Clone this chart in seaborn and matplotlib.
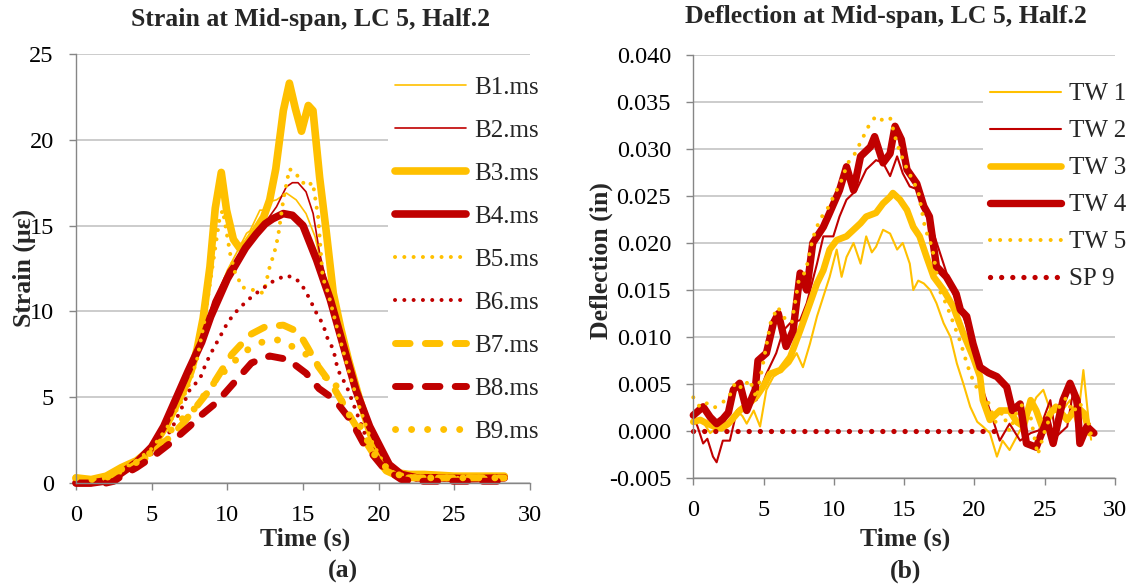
import matplotlib
matplotlib.use("Agg")
import matplotlib.pyplot as plt
import seaborn as sns
from matplotlib.ticker import FormatStrFormatter, MultipleLocator

# ---------------- strain at mid-span (micro-strain vs time in s) ----------------
b1_t = [0, 1, 2, 3, 4, 5, 6, 7, 8, 9, 10, 10.6, 11.27, 11.5, 12.15, 12.4, 12.8, 13.25, 13.9, 14.55,
        15.2, 15.8, 16.4, 17.0, 17.6, 18.5, 19.5, 20.5, 21.5, 22.5, 25.0, 28.3]
b1_v = [0.3, 0.2, 0.4, 0.9, 1.4, 2.2, 3.5, 5.3, 7.4, 10.2, 12.4, 13.4, 14.55, 14.7, 15.9, 15.9, 16.4, 16.5, 16.9, 16.5,
        15.7, 14.35, 12.0, 10.0, 8.0, 5.5, 3.0, 1.2, 0.6, 0.5, 0.4, 0.4]

b2_t = [0, 1, 2, 3, 4, 5, 6, 7, 8.0, 8.6, 9.06, 9.5, 10.05, 10.6, 11.2, 12.0, 12.6, 13.25, 13.9, 14.3,
        14.67, 15.2, 15.67, 16.1, 16.6, 17.2, 18.0, 19.0, 20.0, 21.0, 22.0, 25.0, 28.3]
b2_v = [0.1, 0.1, 0.2, 0.7, 1.3, 2.2, 3.6, 5.4, 7.6, 9.3, 10.6, 11.4, 12.4, 13.0, 13.8, 14.8, 15.3, 16.1, 17.26, 17.5,
        17.5, 16.97, 15.7, 13.4, 11.5, 9.5, 7.3, 4.6, 2.0, 0.7, 0.4, 0.3, 0.3]

b3_t = [0, 1, 2, 3, 4, 5, 6, 7.1, 7.6, 8.0, 8.4, 8.85, 9.2, 9.6, 9.95, 10.4, 10.8, 11.3, 11.9, 12.4, 12.8,
        13.2, 13.7, 14.1, 14.5, 14.9, 15.35, 15.66, 16.1, 16.55, 17.0, 17.5, 18.0, 18.7, 19.4, 20.0, 20.5,
        21.2, 22.0, 23.0, 25.0, 27.0, 28.3]
b3_v = [0.3, 0.2, 0.4, 0.9, 1.3, 2.0, 3.4, 5.4, 6.5, 7.8, 9.6, 12.6, 16.0, 18.1, 15.9, 14.2, 13.7, 14.0, 14.8, 15.5, 16.5,
        18.3, 21.7, 23.3, 21.8, 20.5, 22.0, 21.7, 17.8, 14.55, 11.06, 9.0, 7.2, 5.0, 3.0, 1.6, 1.0,
        0.6, 0.5, 0.5, 0.4, 0.4, 0.4]

b4_t = [0, 1.0, 1.8, 2.7, 4.0, 5.0, 5.8, 6.6, 7.4, 8.3, 8.9, 9.5, 10.0, 10.6, 11.2, 11.9, 12.5, 13.0, 13.7, 14.3,
        15.0, 15.9, 16.8, 17.6, 18.5, 19.4, 20.3, 20.7, 21.5, 22.5, 24.0, 26.0, 28.3]
b4_v = [0.0, 0.0, 0.1, 0.4, 1.2, 2.1, 3.3, 4.9, 6.5, 8.2, 9.7, 10.9, 11.9, 12.8, 13.7, 14.5, 15.1, 15.4, 15.7, 15.6,
        15.0, 13.0, 10.7, 8.2, 5.4, 3.3, 1.75, 1.07, 0.5, 0.3, 0.3, 0.25, 0.3]

b5_t = [0, 1, 2, 3, 4, 5, 6, 7, 7.5, 8.0, 8.5, 9.0, 9.5, 9.7, 10.2, 10.5, 11.0, 11.7, 12.4, 12.8,
        13.1, 13.35, 13.7, 14.1, 14.45, 15.2, 15.65, 16.0, 16.3, 16.65, 17.0, 17.5, 18.0, 18.7, 19.5,
        20.3, 21.0, 22.0, 25.0, 28.3]
b5_v = [0.2, 0.2, 0.3, 0.8, 1.3, 2.0, 3.2, 4.8, 5.8, 7.2, 9.5, 12.5, 15.5, 15.9, 13.3, 12.3, 11.4, 11.25, 11.06, 12.6,
        13.4, 14.35, 16.5, 18.3, 18.1, 17.3, 17.5, 15.5, 12.0, 11.1, 9.9, 8.2, 6.6, 4.5, 2.5,
        1.2, 0.6, 0.4, 0.3, 0.3]

b6_t = [0, 1, 2, 3, 4, 5, 5.8, 6.4, 7.0, 7.5, 8.2, 8.6, 9.06, 9.5, 10.05, 10.6, 11.27, 11.9, 12.6, 13.1,
        13.9, 14.55, 15.1, 15.45, 16.0, 16.3, 16.65, 17.0, 17.3, 17.9, 18.5, 19.2, 20.0, 20.7, 21.5,
        22.0, 25.0, 28.3]
b6_v = [0.0, 0.0, 0.1, 0.5, 1.0, 1.7, 2.4, 3.3, 4.4, 5.4, 6.1, 7.0, 7.8, 8.5, 9.4, 10.0, 10.6, 11.05, 11.5, 11.8,
        12.1, 11.9, 11.3, 10.7, 9.7, 9.3, 8.35, 7.8, 6.6, 5.6, 4.2, 2.6, 1.4, 0.8, 0.3,
        0.2, 0.2, 0.2]

b7_t = [0, 1, 2, 3, 4, 5, 6, 7, 8, 8.8, 9.3, 10.3, 11.5, 12.5, 13.7, 14.7, 15.3, 16.0, 16.5, 17.0,
        17.6, 18.1, 19.0, 19.8, 20.5, 21.5, 22.5, 25.0, 28.3]
b7_v = [0.2, 0.1, 0.3, 0.7, 1.1, 1.7, 2.5, 3.4, 4.5, 5.4, 6.1, 7.5, 8.64, 9.1, 9.2, 8.8, 7.9, 6.8, 6.2, 5.6,
        4.7, 3.9, 2.6, 1.5, 0.7, 0.3, 0.3, 0.3, 0.3]

b8_t = [0, 1, 2, 2.5, 3, 4, 5.1, 6.2, 7.5, 8.2, 9.3, 10.6, 11.6, 12.8, 14.0, 15.2, 16.06, 17.1, 18.2, 19.0,
        20.3, 21.5, 22.5, 25.0, 28.3]
b8_v = [0.0, 0.0, 0.0, 0.1, 0.4, 0.9, 1.55, 2.3, 3.3, 3.9, 4.7, 6.0, 7.0, 7.4, 7.2, 6.4, 5.5, 4.85, 3.6, 2.3,
        0.9, 0.2, 0.1, 0.1, 0.1]

b9_t = [0, 1, 2, 3, 4, 5, 6, 6.9, 7.5, 8.1, 9.0, 9.7, 10.2, 11.4, 12.5, 13.5, 14.6, 15.8, 16.3, 17.0,
        17.6, 18.1, 19.0, 19.4, 19.8, 20.5, 21.5, 22.5, 25.0, 28.3]
b9_v = [0.3, 0.2, 0.3, 0.8, 1.2, 1.8, 2.8, 3.7, 3.9, 4.7, 5.7, 6.4, 6.9, 7.8, 8.3, 8.34, 7.8, 7.2, 6.2, 6.1,
        4.7, 3.9, 3.1, 2.1, 1.55, 0.9, 0.4, 0.3, 0.3, 0.3]

# ---------------- deflection at mid-span (in vs time in s) ----------------
tw1_t = [0, 0.6, 1.2, 1.7, 2.1, 2.6, 3.1, 3.5, 3.8, 4.3, 4.75, 5.2, 5.7, 6.4, 6.9, 7.35, 7.8, 8.3, 8.8, 9.25,
         9.7, 10.2, 10.55, 10.9, 11.4, 11.9, 12.3, 12.7, 13.0, 13.5, 14.0, 14.5, 14.9, 15.4, 15.65, 16.0, 16.4,
         16.85, 17.3, 17.8, 18.3, 18.75, 19.2, 19.7, 20.2, 20.6, 21.1, 21.6, 22.0, 22.5, 23.25, 24.0, 24.4,
         24.9, 25.4, 26.1, 26.8, 27.3, 27.75, 28.1, 28.3]
tw1_v = [0.0008, 0.0012, -0.0002, 0.0004, 0.0008, 0.0012, 0.0022, 0.0016, 0.0008, 0.0022, 0.0005, 0.0044,
         0.0058, 0.0065, 0.0072, 0.0083, 0.0068, 0.0093, 0.0122, 0.0143, 0.0164, 0.0193, 0.0164, 0.0185,
         0.0200, 0.0178, 0.0207, 0.0190, 0.0196, 0.0214, 0.0210, 0.0193, 0.0200, 0.0178, 0.0150, 0.0160,
         0.0157, 0.0150, 0.0136, 0.0115, 0.0100, 0.0072, 0.0051, 0.0026, 0.0010, 0.0005, -0.0002, -0.0027,
         -0.0010, -0.0020, 0.0001, 0.0022, 0.0036, 0.0044, 0.0022, 0.0019, 0.0033, 0.0005, 0.0065, 0.0015,
         -0.0009]

tw2_t = [0, 0.3, 0.7, 1.0, 1.4, 1.66, 2.1, 2.6, 3.1, 3.8, 4.5, 5.2, 5.9, 6.4, 6.9, 7.6, 8.07, 8.8, 9.25, 9.96,
         10.4, 10.9, 11.6, 12.3, 13.0, 13.5, 14.0, 14.5, 14.9, 15.4, 16.1, 16.6, 17.1, 17.8, 18.5, 19.2, 19.9,
         20.6, 21.1, 21.8, 22.5, 23.25, 24.0, 24.6, 25.4, 25.8, 26.6, 27.0, 27.5, 28.2]
tw2_v = [0.0015, 0.0005, -0.0013, -0.0008, -0.0027, -0.0033, -0.0010, -0.0010, 0.0022, 0.0030, 0.0033,
         0.0061, 0.0083, 0.0107, 0.0115, 0.0118, 0.0136, 0.0178, 0.0207, 0.0207, 0.0228, 0.0246, 0.0256,
         0.0278, 0.0288, 0.0285, 0.0271, 0.0292, 0.0274, 0.0260, 0.0256, 0.0235, 0.0210, 0.0178, 0.0146,
         0.0122, 0.0093, 0.0044, 0.0022, -0.0010, 0.0008, -0.0010, -0.0002, 0.0001, 0.0033, -0.0006, 0.0005,
         0.0040, -0.0002, 0.0008]

tw3_t = [0, 0.5, 1.0, 1.5, 2.0, 2.5, 3.3, 4.0, 4.5, 5.0, 5.45, 6.2, 6.9, 7.6, 8.3, 8.8, 9.25, 9.7, 10.2, 10.9,
         11.4, 11.9, 12.3, 13.0, 13.5, 14.0, 14.2, 14.7, 15.2, 15.65, 16.1, 16.6, 17.1, 17.8, 18.5, 19.2, 19.9,
         20.4, 20.6, 21.1, 21.8, 22.5, 23.0, 23.5, 24.0, 24.4, 24.9, 25.4, 25.8, 26.6, 27.3, 27.8, 28.2]
tw3_v = [0.0010, 0.0012, 0.0008, 0.0005, 0.0003, 0.0008, 0.0022, 0.0030, 0.0037, 0.0048, 0.0061, 0.0065,
         0.0079, 0.0107, 0.0136, 0.0157, 0.0171, 0.0193, 0.0203, 0.0207, 0.0214, 0.0221, 0.0228, 0.0232,
         0.0242, 0.0249, 0.0253, 0.0246, 0.0235, 0.0217, 0.0207, 0.0185, 0.0164, 0.0150, 0.0132, 0.0104,
         0.0079, 0.0058, 0.0033, 0.0012, 0.0022, 0.0022, 0.0010, 0.0005, 0.0033, 0.0022, 0.0001, 0.0019,
         0.0026, 0.0012, 0.0026, 0.0019, -0.0002]

tw4_t = [0, 0.7, 1.2, 1.66, 2.1, 2.5, 2.85, 3.3, 3.8, 4.4, 4.6, 5.2, 5.7, 6.05, 6.6, 7.1, 7.6, 8.07, 8.5, 9.25,
         9.7, 10.4, 10.9, 11.4, 11.9, 12.6, 12.9, 13.5, 14.0, 14.35, 14.8, 15.2, 15.9, 16.4, 16.8, 17.3, 18.0,
         18.7, 19.0, 19.45, 19.9, 20.4, 21.0, 21.6, 22.3, 22.7, 23.25, 23.7, 24.4, 25.15, 25.6, 26.3, 26.8,
         27.3, 27.5, 28.0, 28.5]
tw4_v = [0.0017, 0.0026, 0.0015, 0.0008, 0.0013, 0.0020, 0.0044, 0.0051, 0.0022, 0.0044, 0.0075, 0.0083,
         0.0115, 0.0125, 0.0090, 0.0107, 0.0168, 0.0150, 0.0200, 0.0217, 0.0232, 0.0256, 0.0281, 0.0256,
         0.0292, 0.0302, 0.0313, 0.0285, 0.0295, 0.0324, 0.0310, 0.0278, 0.0263, 0.0239, 0.0228, 0.0175,
         0.0164, 0.0146, 0.0129, 0.0122, 0.0093, 0.0068, 0.0062, 0.0058, 0.0047, 0.0022, 0.0029, -0.0013,
         -0.0017, 0.0012, -0.0013, 0.0033, 0.0051, 0.0033, -0.0013, 0.0005, -0.0002]

tw5_t = [0.0, 0.5, 1.0, 1.5, 2.0, 2.5, 3.0, 3.5, 4.0, 4.5, 5.0, 5.5, 6.0, 6.5, 7.0, 7.5, 8.0, 8.5, 9.0, 9.5,
         10.0, 10.5, 11.0, 11.5, 12.0, 12.5, 13.0, 13.5, 14.0, 14.5, 15.0, 15.5, 16.0, 16.5, 17.0, 17.5, 18.0,
         18.5, 19.0, 19.5, 20.0, 20.5, 21.0, 21.5, 22.0, 22.5, 23.0, 23.5, 24.0, 24.5, 25.0, 25.5, 26.0, 26.5,
         27.0, 27.5, 28.0, 28.4]
tw5_v = [0.0036, 0.0025, 0.0030, 0.0025, 0.0030, 0.0035, 0.0052, 0.0045, 0.0055, 0.0035, 0.0075, 0.0115,
         0.0132, 0.0120, 0.0115, 0.0160, 0.0170, 0.0205, 0.0225, 0.0235, 0.0250, 0.0265, 0.0285, 0.0295,
         0.0310, 0.0325, 0.0335, 0.0330, 0.0333, 0.0305, 0.0285, 0.0270, 0.0255, 0.0215, 0.0195, 0.0150,
         0.0135, 0.0115, 0.0095, 0.0070, 0.0050, 0.0040, 0.0030, 0.0010, 0.0020, 0.0000, 0.0020, 0.0030,
         0.0015, -0.0025, 0.0000, 0.0020, 0.0025, 0.0035, 0.0020, 0.0030, 0.0015, -0.0010]

sp9_t = [0.0, 5.0, 10.0, 15.0, 21.6]
sp9_v = [0.0, 0.0, 0.0, 0.0, 0.0]

YELLOW = "#FFC000"
RED = "#C00000"
AXIS_GREY = "#868686"
GRID_GREY = "#BFBFBF"

SOLID = "-"
SMALL_DOTS = (0, (0.01, 2.3))
BIG_DOTS = (0, (0.01, 2.3))
DASHES = (0, (2.1, 2.2))

strain_series = [
    ("B1.ms", b1_t, b1_v, YELLOW, 1.2, SOLID),
    ("B2.ms", b2_t, b2_v, RED, 1.2, SOLID),
    ("B3.ms", b3_t, b3_v, YELLOW, 5.5, SOLID),
    ("B4.ms", b4_t, b4_v, RED, 5.5, SOLID),
    ("B5.ms", b5_t, b5_v, YELLOW, 2.9, SMALL_DOTS),
    ("B6.ms", b6_t, b6_v, RED, 2.9, SMALL_DOTS),
    ("B7.ms", b7_t, b7_v, YELLOW, 5.0, DASHES),
    ("B8.ms", b8_t, b8_v, RED, 5.0, DASHES),
    ("B9.ms", b9_t, b9_v, YELLOW, 5.0, BIG_DOTS),
]

deflection_series = [
    ("TW 1", tw1_t, tw1_v, YELLOW, 1.5, SOLID),
    ("TW 2", tw2_t, tw2_v, RED, 1.5, SOLID),
    ("TW 3", tw3_t, tw3_v, YELLOW, 4.8, SOLID),
    ("TW 4", tw4_t, tw4_v, RED, 5.3, SOLID),
    ("TW 5", tw5_t, tw5_v, YELLOW, 2.9, (0, (0.01, 2.5))),
    ("SP 9", sp9_t, sp9_v, RED, 3.8, (0, (0.01, 2.1))),
]

sns.set_theme(style="white")
plt.rcParams["font.family"] = ["Liberation Serif", "DejaVu Serif"]
plt.rcParams["axes.unicode_minus"] = False

W, H = 1131, 586
fig = plt.figure(figsize=(W / 100, H / 100), dpi=100)


def px_box(x0, y0, x1, y1):
    return [x0 / W, 1 - y1 / H, (x1 - x0) / W, (y1 - y0) / H]


ax1 = fig.add_axes(px_box(76, 54, 530, 483))
ax2 = fig.add_axes(px_box(693.3, 54.7, 1115, 478.3))


def draw(ax, series):
    for name, t, v, color, lw, ls in series:
        sns.lineplot(x=t, y=v, ax=ax, color=color, linewidth=lw, linestyle=ls,
                     dash_capstyle="round", solid_capstyle="round",
                     solid_joinstyle="round", dash_joinstyle="round",
                     label=name, estimator=None, sort=False, clip_on=False)


draw(ax1, strain_series)
draw(ax2, deflection_series)

for ax in (ax1, ax2):
    ax.set_xlim(0, 30)
    ax.xaxis.set_major_locator(MultipleLocator(5))
    ax.set_xlabel("")
    ax.set_ylabel("")
    ax.set_axisbelow(True)
    ax.yaxis.grid(True, color=GRID_GREY, linewidth=1.1)
    ax.xaxis.grid(False)
    for side in ("top", "right"):
        ax.spines[side].set_visible(False)
    for side in ("left", "bottom"):
        ax.spines[side].set_color(AXIS_GREY)
        ax.spines[side].set_linewidth(1.0)
    ax.tick_params(axis="both", which="major", direction="out", length=5, width=1,
                   color=AXIS_GREY, labelsize=17.5, labelcolor="black",
                   bottom=True, left=True)
    ax.tick_params(axis="x", pad=10.6)
    ax.tick_params(axis="y", pad=11)

ax1.set_ylim(0, 25)
ax1.yaxis.set_major_locator(MultipleLocator(5))
ax2.set_ylim(-0.005, 0.040)
ax2.yaxis.set_major_locator(MultipleLocator(0.005))
ax2.yaxis.set_major_formatter(FormatStrFormatter("%.3f"))

leg_kw = dict(loc="upper left", bbox_transform=fig.transFigure, borderaxespad=0,
              frameon=True, fancybox=False, facecolor="white", edgecolor="none",
              framealpha=1.0, fontsize=18, handletextpad=0.3, borderpad=0.28)
leg1 = ax1.legend(bbox_to_anchor=(388 / W, 1 - 69.5 / H), handlelength=2.85,
                  labelspacing=0.82, **leg_kw)
leg2 = ax2.legend(bbox_to_anchor=(983 / W, 1 - 76 / H), handlelength=2.85,
                  labelspacing=0.58, **leg_kw)
for leg in (leg1, leg2):
    leg.set_zorder(5)


def fig_text(x, y, s, **kw):
    fig.text(x / W, 1 - y / H, s, ha="center", va="center", **kw)


bold = dict(fontsize=18.5, fontweight="bold")
fig_text(310.5, 19.5, "Strain at Mid-span, LC 5, Half.2", **bold)
fig_text(886, 16, "Deflection at Mid-span, LC 5, Half.2", **bold)
fig_text(24, 268, "Strain (με)", rotation=90, **bold)
fig_text(601, 261, "Deflection (in)", rotation=90, **bold)
fig_text(305, 539, "Time (s)", **bold)
fig_text(905.6, 539, "Time (s)", **bold)
fig_text(343, 571, "(a)", **bold)
fig_text(905.6, 571, "(b)", **bold)

fig.savefig("out.png", dpi=100, facecolor="white")
